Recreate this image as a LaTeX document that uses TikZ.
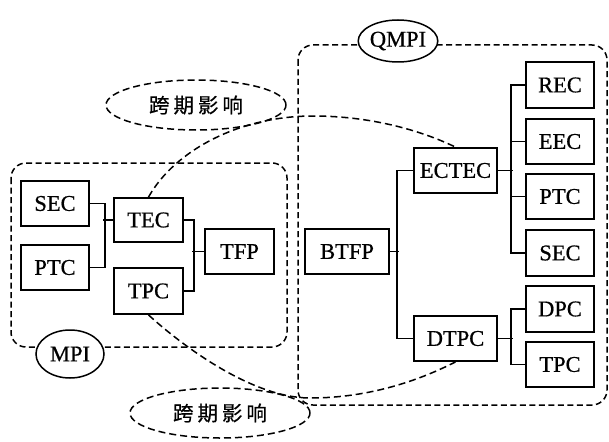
\documentclass[tikz,border=0pt]{standalone}
\usepackage{fontspec}
\setmainfont{Liberation Serif}[FakeBold=0.7]
\newfontfamily\cjk{Noto Sans CJK SC}[FakeBold=0.6]
\usetikzlibrary{shapes.geometric}
\begin{document}
\begin{tikzpicture}[x=1pt,y=-1pt,
  box/.style={draw,line width=1.8pt,fill=white,rectangle,inner sep=0pt,minimum width=68pt,minimum height=45pt,font=\fontsize{22.5}{24}\selectfont},
  wire/.style={line width=1.8pt},
  dsh/.style={line width=1.5pt,dash pattern=on 7pt off 4pt},
  group/.style={line width=1.5pt,dash pattern=on 6pt off 3.5pt,rounded corners=15pt},
  tag/.style={draw,line width=1.5pt,fill=white,ellipse,inner sep=0pt,minimum width=68pt,font=\fontsize{22.5}{24}\selectfont},
  span/.style={draw,dsh,ellipse,inner sep=0pt,minimum width=180pt,minimum height=50pt,font=\cjk\fontsize{20.5}{22}\selectfont}]
\useasboundingbox (0,0) rectangle (609,441);
% group frames
\draw[group] (11,163) rectangle (287,347);
\draw[group] (298,45) rectangle (607,405);
% left group
\node[box] (sec) at (55,203.5) {SEC};
\node[box] (ptc) at (55,267.5) {PTC};
\node[box,minimum width=69pt,minimum height=44pt] (tec) at (148.5,220) {TEC};
\node[box,minimum width=69pt,minimum height=46pt] (tpc) at (148.5,291) {TPC};
\node[box,minimum width=69pt] (tfp) at (239.5,251.5) {TFP};
% right group
\node[box,minimum width=84pt] (btfp) at (347,251.5) {BTFP};
\node[box,minimum width=83pt] (ectec) at (455.5,170.5) {ECTEC};
\node[box,minimum width=83pt] (dtpc) at (455.5,338.5) {DTPC};
\node[box,minimum height=46pt] (rec) at (560,85) {REC};
\node[box] (eec) at (560,141.5) {EEC};
\node[box] (rptc) at (560,196.5) {PTC};
\node[box,minimum height=46pt] (rsec) at (560,253) {SEC};
\node[box,minimum height=46pt] (dpc) at (560,309) {DPC};
\node[box] (rtpc) at (560,364.5) {TPC};
% connectors left
\draw[wire] (sec.east) -- ++(15,0) |- (ptc.east);
\draw[wire] (tec.west) -- ++(-10,0);
\draw[wire] (tec.east) -- ++(10,0) |- (tpc.east);
\draw[wire] (tfp.west) -- ++(-12,0);
% connectors right
\draw[wire] (ectec.west) -- ++(-16,0) |- (dtpc.west);
\draw[wire] (btfp.east) -- ++(9,0);
\draw[wire] (rec.west) -- ++(-14,0) |- (rsec.west);
\draw[wire] (eec.west) -- ++(-14,0);
\draw[wire] (rptc.west) -- ++(-14,0);
\draw[wire] (ectec.east) -- ++(15,0);
\draw[wire] (dpc.west) -- ++(-14,0) |- (rtpc.west);
\draw[wire] (dtpc.east) -- ++(15,0);
% cross-period curves
\draw[dsh] (tec.north) .. controls (175,150) and (240,116) .. (313,116)
  .. controls (370,116) and (420,130) .. (ectec.north);
\draw[dsh] (tpc.south) .. controls (178,342) and (250,398) .. (310,398)
  .. controls (370,398) and (420,380) .. (dtpc.south);
% labels
\node[span] (span1) at (196,105) {跨\hspace{4pt}期\hspace{4pt}影\hspace{4pt}响};
\node[span] (span2) at (220,413) {跨\hspace{4pt}期\hspace{4pt}影\hspace{4pt}响};
\node[tag,minimum height=48pt] (mpi) at (70,354) {MPI};
\node[tag,minimum height=42pt] (qmpi) at (398,41) {QMPI};
\end{tikzpicture}
\end{document}
